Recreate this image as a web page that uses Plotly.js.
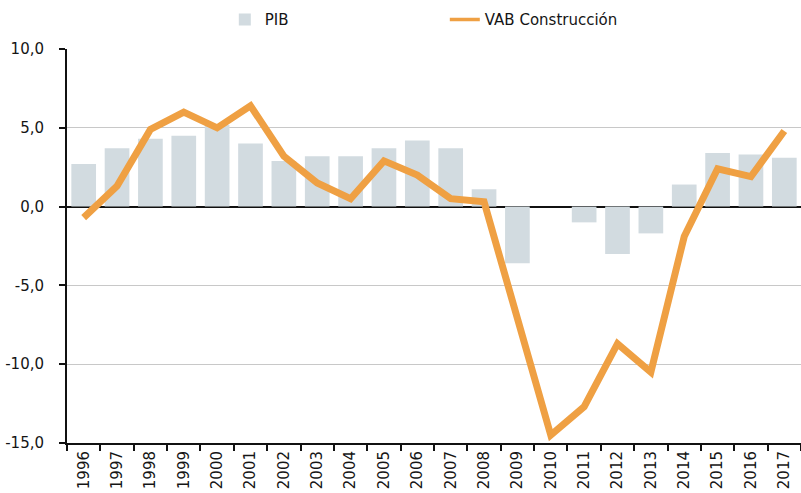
<!DOCTYPE html>
<html>
<head>
<meta charset="utf-8">
<script src="https://cdn.plot.ly/plotly-3.0.1.min.js"></script>
<style>html,body{margin:0;padding:0;background:#fff;}#chart{width:801px;height:493px;}</style>
</head>
<body>
<div id="chart"></div>
<script>
const years = ["1996","1997","1998","1999","2000","2001","2002","2003","2004","2005","2006","2007","2008","2009","2010","2011","2012","2013","2014","2015","2016","2017"];
const pib = [2.7,3.7,4.3,4.5,5.2,4.0,2.9,3.2,3.2,3.7,4.2,3.7,1.1,-3.6,0.0,-1.0,-3.0,-1.7,1.4,3.4,3.3,3.1];
const vabConstruccion = [-0.7,1.3,4.9,6.0,5.0,6.4,3.2,1.5,0.5,2.9,2.0,0.5,0.3,-7.2,-14.5,-12.7,-8.7,-10.5,-1.9,2.4,1.9,4.8];
const yTicks = [-15,-10,-5,0,5,10];
const yTickText = yTicks.map(v => v.toFixed(1).replace(".", ","));

const orange = "#EFA043";
const font = "'DejaVu Sans', Verdana, sans-serif";
const traces = [
  {type:"bar", name:"PIB", x:years, y:pib, marker:{color:"#D2DBE0"}},
  {type:"scatter", mode:"lines", name:"VAB Construcción", x:years, y:vabConstruccion,
   line:{color:orange, width:7}, showlegend:false},
  {type:"scatter", mode:"lines", name:"VAB Construcción", x:[null], y:[null],
   line:{color:orange, width:3.5}, showlegend:true}
];
const layout = {
  width:801, height:493,
  margin:{l:67, r:0, t:49, b:50, autoexpand:false},
  paper_bgcolor:"#fff", plot_bgcolor:"#fff",
  font:{family:font, size:15, color:"#151515"},
  bargap:0.26,
  showlegend:true,
  legend:{orientation:"h", x:0.215, xanchor:"left", y:1.074, yanchor:"middle",
          entrywidth:175, font:{size:15, color:"#151515"}, itemwidth:30},
  xaxis:{type:"category", tickangle:-90, showline:true, linecolor:"#111", linewidth:2,
         ticks:"outside", tickson:"boundaries", ticklen:6, tickwidth:2, tickcolor:"#111",
         showgrid:false, tickfont:{size:15}, fixedrange:true},
  yaxis:{range:[-15,10], tickvals:yTicks, ticktext:yTickText, showline:true, linecolor:"#111", linewidth:2,
         ticks:"outside", ticklen:6, tickwidth:2, tickcolor:"#111",
         ticklabelposition:"outside", ticklabelstandoff:12,
         showgrid:true, gridcolor:"#c8c8c8", gridwidth:1,
         zeroline:true, zerolinecolor:"#111", zerolinewidth:2,
         tickfont:{size:15}, fixedrange:true}
};
Plotly.newPlot("chart", traces, layout, {displayModeBar:false, staticPlot:true});
</script>
</body>
</html>
